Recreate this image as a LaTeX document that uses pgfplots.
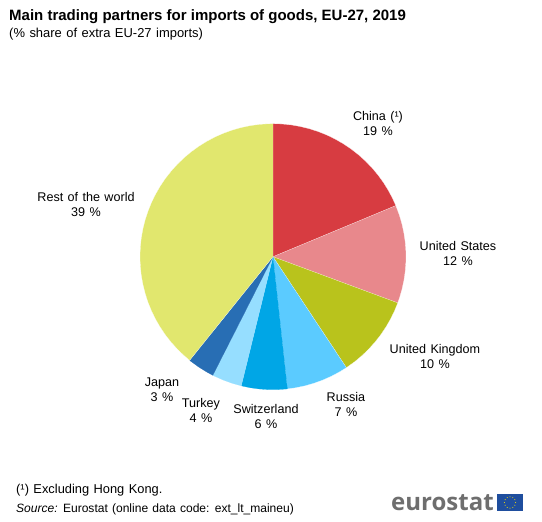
\documentclass[border=0pt]{standalone}
\usepackage{fontspec}
\setmainfont{Liberation Sans}[WordSpace=1.25]
\newfontfamily\titlefont{Liberation Sans}[WordSpace=1.0]
\newfontfamily\logofont{Open Sans}
\usepackage{pgfplots}
\pgfplotsset{compat=1.18}
\usepgfplotslibrary{polar}
\definecolor{cChina}{HTML}{D73C41}
\definecolor{cUS}{HTML}{E8888C}
\definecolor{cUK}{HTML}{B9C31C}
\definecolor{cRussia}{HTML}{5BCBFF}
\definecolor{cSwiss}{HTML}{00A6E6}
\definecolor{cTurkey}{HTML}{96DEFF}
\definecolor{cJapan}{HTML}{286EB4}
\definecolor{cRest}{HTML}{E1E76E}
\definecolor{cLogo}{HTML}{6E6E6E}
\definecolor{cFlag}{HTML}{1F4E9E}
\begin{document}
\begin{tikzpicture}[x=1pt,y=1pt]
\path[use as bounding box] (0,0) rectangle (542,522);
\begin{polaraxis}[
  at={(273.0pt,265.3pt)}, anchor=center,
  hide axis, clip=false,
  scale only axis, width=266pt, height=266pt,
  ymin=0, ymax=1,
  every axis plot/.append style={line width=0.15pt},
]
\addplot[fill=cChina,draw=white] coordinates {(0,0)(90,1)(86,1)(82,1)(78,1)(74,1)(70,1)(66,1)(62,1)(58,1)(54,1)(50,1)(46,1)(42,1)(38,1)(34,1)(30,1)(26,1)(22.6,1)};
\addplot[fill=cUS,draw=white] coordinates {(0,0)(22.6,1)(18,1)(14,1)(10,1)(6,1)(2,1)(-2,1)(-6,1)(-10,1)(-14,1)(-18,1)(-20.3,1)};
\addplot[fill=cUK,draw=white] coordinates {(0,0)(-20.3,1)(-24,1)(-28,1)(-32,1)(-36,1)(-40,1)(-44,1)(-48,1)(-52,1)(-56.5,1)};
\addplot[fill=cRussia,draw=white] coordinates {(0,0)(-56.5,1)(-60,1)(-64,1)(-68,1)(-72,1)(-76,1)(-80,1)(-83.8,1)};
\addplot[fill=cSwiss,draw=cSwiss] coordinates {(0,0)(-83.8,1)(-88,1)(-92,1)(-96,1)(-100,1)(-103.8,1)};
\addplot[fill=cTurkey,draw=cTurkey] coordinates {(0,0)(-103.8,1)(-108,1)(-112,1)(-116,1)(-116.9,1)};
\addplot[fill=cJapan,draw=cJapan] coordinates {(0,0)(-116.9,1)(-120,1)(-124,1)(-128,1)(-128.8,1)};
\addplot[fill=cRest,draw=white] coordinates {(0,0)(-128.8,1)(-132,1)(-136,1)(-140,1)(-144,1)(-148,1)(-152,1)(-156,1)(-160,1)(-164,1)(-168,1)(-172,1)(-176,1)(-180,1)(-184,1)(-188,1)(-192,1)(-196,1)(-200,1)(-204,1)(-208,1)(-212,1)(-216,1)(-220,1)(-224,1)(-228,1)(-232,1)(-236,1)(-240,1)(-244,1)(-248,1)(-252,1)(-256,1)(-260,1)(-264,1)(-268,1)(-270,1)};
\end{polaraxis}
% titles
\node[anchor=base west,inner sep=0,font=\fontsize{15}{18}\selectfont\titlefont\bfseries] at (9,501) {Main trading partners for imports of goods, EU-27, 2019};
\node[anchor=base west,inner sep=0,font=\fontsize{12.95}{14}\selectfont] at (9,484.5) {(\% share of extra EU-27 imports)};
% labels
\tikzset{lab/.style={anchor=center,align=center,inner sep=0,font=\fontsize{12.6}{15}\selectfont}}
\node[lab] at (378,398.5) {China (¹)\\19 \%};
\node[lab] at (458,268.5) {United States\\12 \%};
\node[lab] at (435,165.5) {United Kingdom\\10 \%};
\node[lab] at (346,117.5) {Russia\\7 \%};
\node[lab] at (266,105.5) {Switzerland\\6 \%};
\node[lab] at (201,111.5) {Turkey\\4 \%};
\node[lab] at (162,132) {Japan\\3 \%};
\node[lab] at (86,317.5) {Rest of the world\\39 \%};
% notes
\node[anchor=base west,inner sep=0,font=\fontsize{12.85}{14}\selectfont] at (16,28) {(¹) Excluding Hong Kong.};
\node[anchor=base west,inner sep=0,font=\fontsize{12.05}{14}\selectfont] at (16,9) {\textit{Source:} Eurostat (online data code: ext\_lt\_maineu)};
% logo
\node[anchor=base west,inner sep=0,text=cLogo,font=\fontsize{24}{28}\selectfont\logofont\bfseries] at (391,11) {eurostat};
\fill[cFlag] (497,11) rectangle (523,28);
\foreach \a in {0,30,...,330}{\fill[yellow!85!orange] (510,19.5)+(\a:5.6) circle (0.55);}
\end{tikzpicture}
\end{document}
